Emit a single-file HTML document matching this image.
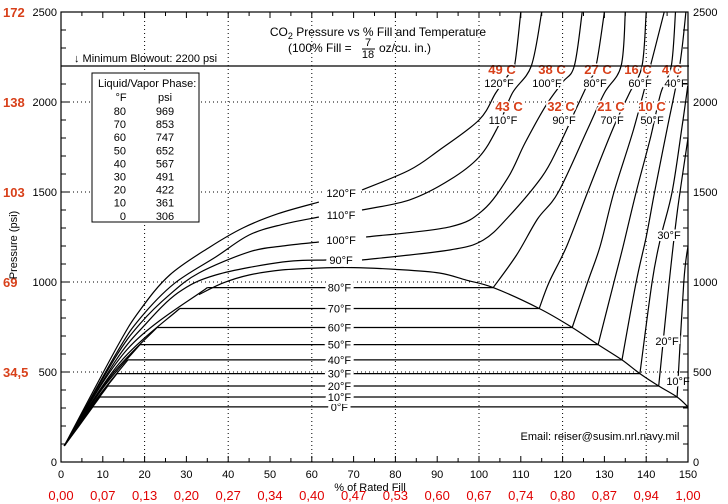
<!DOCTYPE html>
<html><head><meta charset="utf-8"><style>
body{margin:0;background:#fff}
svg{display:block;font-family:"Liberation Sans","DejaVu Sans",sans-serif}
.t{font-size:11px;fill:#000}
.r{font-size:13px;font-weight:bold;fill:#d8401a}
</style></head><body>
<svg id="chart" width="728" height="504" viewBox="0 0 728 504">
<g id="grid"></g>
<g id="curves"></g>
<g id="labels"></g>
<g id="axes"></g>
<text x="378" y="36" text-anchor="middle" class="t" style="font-size:12px">CO<tspan font-size="9" dy="3">2</tspan><tspan dy="-3"> Pressure vs % Fill and Temperature</tspan></text>
<g>
<text x="288" y="52" class="t" style="font-size:12px">(100% Fill = </text>
<text x="368" y="46" class="t" text-anchor="middle">7</text>
<line x1="362" y1="49" x2="375" y2="49" stroke="#000"/>
<text x="368" y="58" class="t" text-anchor="middle">18</text>
<text x="379" y="52" class="t" style="font-size:12px">oz/cu. in.)</text>
</g>
<line x1="61" y1="66" x2="689" y2="66" stroke="#000" stroke-width="1.3"/>
<text x="74" y="62" class="t">↓ Minimum Blowout: 2200 psi</text>
<g>
<rect x="92" y="73" width="107" height="149" fill="#fff" stroke="#000"/>
<text x="98" y="87" class="t">Liquid/Vapor Phase:</text>
<text x="121" y="101" class="t" text-anchor="middle">°F</text><text x="165" y="101" class="t" text-anchor="middle">psi</text>
<g id="tbl"></g>
</g>
<text x="600" y="440" text-anchor="middle" class="t">Email: reiser@susim.nrl.navy.mil</text>
<text transform="translate(17,245) rotate(-90)" text-anchor="middle" class="t">Pressure (psi)</text>
<text x="370" y="491" text-anchor="middle" class="t">% of Rated Fill</text>
</svg>
<script>
const tableTemps=[80,70,60,50,40,30,20,10,0];
const tablePsi=[969,853,747,652,567,491,422,361,306];
const xTicks=[0,10,20,30,40,50,60,70,80,90,100,110,120,130,140,150];
const xRed=["0,00","0,07","0,13","0,20","0,27","0,34","0,40","0,47","0,53","0,60","0,67","0,74","0,80","0,87","0,94","1,00"];
const yTicks=[0,500,1000,1500,2000,2500];
const yRedVals=[500,1000,1500,2000,2500];
const yRed=["34,5","69","103","138","172"];
const satTemps=[0,10,20,30,40,50,60,70,80];
const satPsi=[306,361,422,491,567,652,747,853,969];
const satGasX=[7.6,9.3,11.2,13.4,16,18.9,23,28.4,35];
const satGasMidX=[4.3,5,6,7,8.5,10,12,14,16];
const satGasMidP=[200,225,260,300,350,410,480,550,630];
const liq10=[[147.4,361],[149,1000],[150,1200]];
const liq20=[[143,422],[145.5,1000],[147.5,1400],[150,1800]];
const liq30=[[138.5,491],[141.4,1000],[143.5,1250],[146.2,1500],[148.5,1850],[150,2100]];
const liq40=[[134.2,567],[137.6,1000],[140,1250],[142,1500],[145,1850],[148,2200],[149.5,2500]];
const liq50=[[128.5,652],[132.3,1000],[134.5,1200],[137.6,1500],[141,1800],[143.5,2050],[146,2200],[147,2500]];
const liq60=[[122.3,747],[126,1000],[129,1200],[132.3,1500],[137,1850],[141,2200],[144.3,2500]];
const liq70=[[114.4,853],[116.8,1000],[121,1200],[126,1500],[132,1850],[136,2050],[139,2200],[140,2500]];
const liq80=[[103.4,969],[109,1150],[114,1350],[119,1500],[126,1850],[130,2050],[134,2200],[135,2500]];
const gas90=[[0.8,90],[13,560],[20,760],[28,940],[37,1039],[53,1111],[63.5,1122]];
const liq90=[[72,1122],[93,1178],[101,1233],[107,1361],[115,1583],[119,1750],[123,1950],[126,2100],[128,2200],[130,2500]];
const gas100=[[0.8,90],[13,580],[19,770],[26,930],[33,1050],[45,1167],[53,1200],[61.7,1222]];
const liq100=[[73,1250],[93,1306],[101,1400],[107,1583],[111,1772],[116,1980],[120,2110],[122.8,2200],[124.7,2500]];
const gas110=[[0.8,90],[13.4,610],[19,800],[27,990],[37,1139],[45,1261],[53,1320],[61.7,1361]];
const liq110=[[72,1400],[83.4,1456],[93,1567],[100,1694],[104.4,1856],[108,2050],[112.5,2200],[115,2500]];
const gas120=[[0.8,90],[13.4,639],[18.9,844],[26,1039],[35.6,1194],[43.5,1300],[52,1380],[61.7,1444]];
const liq120=[[72,1511],[83.4,1622],[90.5,1733],[100,1900],[104,2050],[107,2150],[108.5,2200],[110,2500]];
const dome=[[33,930],[38.7,994],[45,1039],[53,1067],[62,1078],[70,1080],[80,1070],[90.5,1050],[97,1010],[103.4,969],[114.4,853],[122.3,747],[128.5,652],[134.2,567],[138.5,491],[143,422],[147.4,361],[150,306]];

const NS="http://www.w3.org/2000/svg";
const X=v=>61+v*4.18, Y=p=>462-p*0.18;
function mk(tag,attrs,parent,txt){const e=document.createElementNS(NS,tag);for(const k in attrs)e.setAttribute(k,attrs[k]);if(txt!==undefined)e.textContent=txt;parent.appendChild(e);return e;}
const grid=document.getElementById('grid'),curves=document.getElementById('curves'),labels=document.getElementById('labels'),axes=document.getElementById('axes'),tbl=document.getElementById('tbl');

tableTemps.forEach((t,i)=>{
 const a=mk('text',{x:126,y:115+i*13.1,'text-anchor':'end',class:'t'},tbl,String(t));
 
 
 const b=mk('text',{x:165,y:115+i*13.1,'text-anchor':'middle',class:'t'},tbl,String(tablePsi[i]));
 
 
});

[20,40,60,80,100,120,140].forEach(v=>{const l=mk('line',{x1:X(v),y1:Y(0),x2:X(v),y2:Y(2500),stroke:'#000','stroke-dasharray':'1,3'},grid);
 
 });
[500,1000,1500,2000].forEach(p=>{const l=mk('line',{x1:X(0),y1:Y(p),x2:X(150),y2:Y(p),stroke:'#000','stroke-dasharray':'1,3'},grid);
 
 });

function poly(pts,name){
 const P=pts.map(q=>[X(q[0]),Y(q[1])]);
 let d='M'+P[0][0].toFixed(1)+','+P[0][1].toFixed(1);
 for(let i=0;i<P.length-1;i++){
  const p0=P[Math.max(0,i-1)],p1=P[i],p2=P[i+1],p3=P[Math.min(P.length-1,i+2)];
  const c1=[p1[0]+(p2[0]-p0[0])/6,p1[1]+(p2[1]-p0[1])/6];
  const c2=[p2[0]-(p3[0]-p1[0])/6,p2[1]-(p3[1]-p1[1])/6];
  d+=' C'+c1.map(v=>v.toFixed(1)).join(',')+' '+c2.map(v=>v.toFixed(1)).join(',')+' '+p2.map(v=>v.toFixed(1)).join(',');
 }
 const p=mk('path',{d:d,fill:'none',stroke:'#000','stroke-width':1.2},curves);
 
 }
const liqs=[liq10,liq20,liq30,liq40,liq50,liq60,liq70,liq80];
const domeEnds=[150,147.4,143,138.5,134.2,128.5,122.3,114.4,103.4];
satTemps.forEach((t,i)=>{
 poly([[0.8,90],[satGasMidX[i],satGasMidP[i]],[satGasX[i],satPsi[i]]],'isotherm-'+t+'f-gas');
 poly([[satGasX[i],satPsi[i]],[domeEnds[i],satPsi[i]]],'isotherm-'+t+'f-two-phase');
 if(i>0)poly(liqs[i-1],'isotherm-'+t+'f-liquid');
 const lb=mk('text',{x:X(66.6),y:Y(satPsi[i])+4,'text-anchor':'middle',class:'t',style:'paint-order:stroke;stroke:#fff;stroke-width:6px'},labels,t+'°F');
 
 
});
poly(gas90,'isotherm-90f-gas');poly(liq90,'isotherm-90f-liquid');
poly(gas100,'isotherm-100f-gas');poly(liq100,'isotherm-100f-liquid');
poly(gas110,'isotherm-110f-gas');poly(liq110,'isotherm-110f-liquid');
poly(gas120,'isotherm-120f-gas');poly(liq120,'isotherm-120f-liquid');
poly(dome,'saturation-dome');
[[90,1122],[100,1233],[110,1372],[120,1494]].forEach(a=>{
 const lb=mk('text',{x:X(67),y:Y(a[1])+4,'text-anchor':'middle',class:'t',style:'paint-order:stroke;stroke:#fff;stroke-width:6px'},labels,a[0]+'°F');
 
 
});
const topLabels=[[502,'49 C',499,'120°F',69,83],[552,'38 C',547,'100°F',69,83],[598,'27 C',595,'80°F',69,83],[638,'16 C',640,'60°F',69,83],[672,'4 C',676,'40°F',69,83],
 [509,'43 C',503,'110°F',106,120],[561,'32 C',564,'90°F',106,120],[611,'21 C',612,'70°F',106,120],[652,'10 C',652,'50°F',106,120]];
topLabels.forEach(a=>{
 const c=mk('text',{x:a[0],y:a[4]+5,'text-anchor':'middle',class:'r',style:'paint-order:stroke;stroke:#fff;stroke-width:3px'},labels,a[1]);
 
 
 const f=mk('text',{x:a[2],y:a[5]+4,'text-anchor':'middle',class:'t',style:'paint-order:stroke;stroke:#fff;stroke-width:4px'},labels,a[3]);
 
 
});
[[669,235,'30°F'],[667,341,'20°F'],[678,381,'10°F']].forEach(a=>{
 const f=mk('text',{x:a[0],y:a[1]+4,'text-anchor':'middle',class:'t',style:'paint-order:stroke;stroke:#fff;stroke-width:4px'},labels,a[2]);
 
 
});

const fr=mk('rect',{x:X(0),y:Y(2500),width:X(150)-X(0),height:Y(0)-Y(2500),fill:'none',stroke:'#000','stroke-width':1.2},axes);


for(let v=0;v<=150;v+=5){const L=v%10?4:6;
 mk('line',{x1:X(v),y1:Y(0),x2:X(v),y2:Y(0)-L,stroke:'#000'},axes);
 mk('line',{x1:X(v),y1:Y(2500),x2:X(v),y2:Y(2500)+L,stroke:'#000'},axes);}
for(let p=0;p<=2500;p+=100){const L=p%500?5:8;
 mk('line',{x1:X(0),y1:Y(p),x2:X(0)+L,y2:Y(p),stroke:'#000'},axes);
 mk('line',{x1:X(150),y1:Y(p),x2:X(150)-L,y2:Y(p),stroke:'#000'},axes);}
xTicks.forEach((v,i)=>{
 const t=mk('text',{x:X(v),y:478,'text-anchor':'middle',class:'t'},axes,String(v));
 
 
 const r=mk('text',{x:X(v),y:500,'text-anchor':'middle',class:'r',style:'fill:#e00000;font-weight:normal'},axes,xRed[i]);
 
 
});
yTicks.forEach(p=>{
 const t=mk('text',{x:57,y:Y(p)+4,'text-anchor':'end',class:'t'},axes,String(p));
 
 
 const t2=mk('text',{x:693,y:Y(p)+4,class:'t'},axes,String(p));
 
 
});
yRedVals.forEach((p,i)=>{
 const r=mk('text',{x:3,y:Y(p)+5,class:'r'},axes,yRed[i]);
 
 
});
</script>
</body></html>
